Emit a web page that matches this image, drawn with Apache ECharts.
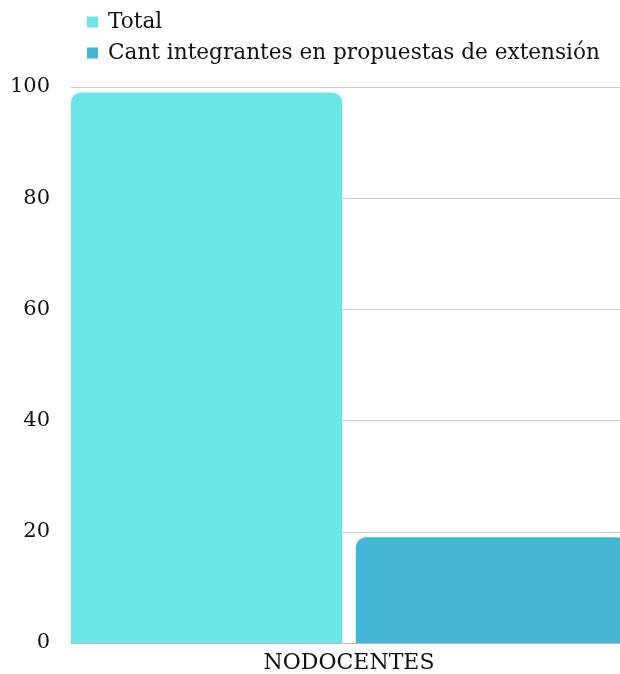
<!DOCTYPE html>
<html>
<head>
<meta charset="utf-8">
<script src="https://cdn.jsdelivr.net/npm/echarts@6/dist/echarts.min.js"></script>
<style>
  html, body { margin: 0; padding: 0; background: #fff; overflow: hidden; }
  /* el gráfico es un poco más ancho que la ventana: la última barra queda cortada como en el original */
  #chart { width: 627px; height: 674px; }
</style>
</head>
<body>
<div id="chart"></div>
<script>
// datos
const categories = ["NODOCENTES"];
const totalValues = [99];
const extensionValues = [19];
const seriesNames = ["Total", "Cant integrantes en propuestas de extensión"];

const font = "'DejaVu Serif', serif";
const chart = echarts.init(document.getElementById("chart"));
chart.setOption({
  textStyle: { fontFamily: font },
  legend: {
    orient: "vertical",
    left: 82,
    top: 6,
    itemWidth: 11,
    itemHeight: 11,
    itemGap: 9,
    icon: "rect",
    textStyle: { fontFamily: font, fontSize: 21.6, color: "#111", padding: [0, 0, 0, 5] },
    data: seriesNames,
  },
  grid: { left: 71, right: 0, top: 87, bottom: 30 },
  xAxis: {
    type: "category",
    data: categories,
    axisTick: { show: false },
    axisLine: { lineStyle: { color: "#bbb" } },
    axisLabel: { fontFamily: font, fontSize: 22, color: "#111", margin: 9 },
  },
  yAxis: {
    type: "value",
    min: 0,
    max: 100,
    interval: 20,
    axisLabel: { fontFamily: font, fontSize: 21, color: "#111", margin: 21 },
    splitLine: { lineStyle: { color: "#ccc" } },
  },
  series: [
    {
      name: seriesNames[0],
      type: "bar",
      data: totalValues,
      barCategoryGap: 0,
      barGap: "5%",
      itemStyle: { color: "#6ae5e8", borderRadius: [10, 10, 0, 0] },
    },
    {
      name: seriesNames[1],
      type: "bar",
      data: extensionValues,
      itemStyle: { color: "#42b7d4", borderRadius: [10, 10, 0, 0] },
    },
  ],
});
</script>
</body>
</html>
